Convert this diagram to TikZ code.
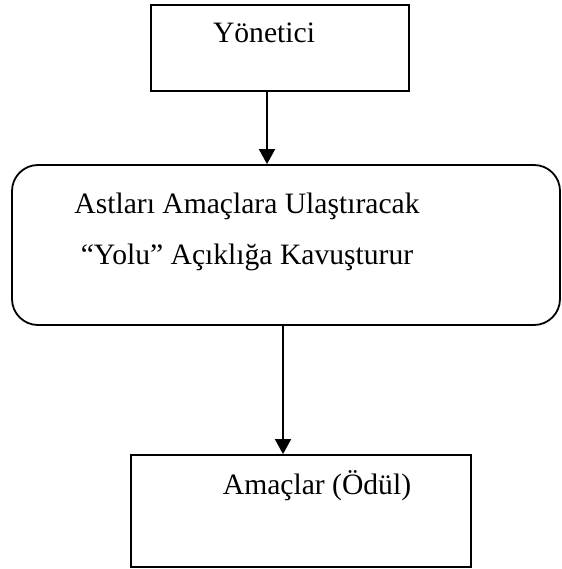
\documentclass[tikz,border=0pt]{standalone}
\usepackage{fontspec}
\setmainfont{Liberation Serif}
\usepackage{tikz}
\usetikzlibrary{arrows.meta}
\usetikzlibrary{positioning}
\tikzset{
    box/.style={
           rectangle,
           draw=black, line width=1.8pt,
           inner sep=0pt,
           },
    roundbox/.style={
           box,
           rounded corners=26pt,
           },
    txt/.style={
           inner sep=0pt,
           font=\fontsize{29.6}{51}\selectfont,
           align=center,
           },
}

\begin{document}
\begin{tikzpicture}[x=1pt,y=-1pt,arr/.style={-{Triangle[length=15pt,width=16pt]},line width=1.8pt}]

 \useasboundingbox (0,0) rectangle (561,569);

 % boxes
 \node[box, minimum width=258pt, minimum height=86pt] (yon) at (280,48) {};
 \node[roundbox, minimum width=548pt, minimum height=160pt] (yol) at (286,245) {};
 \node[box, minimum width=340pt, minimum height=112pt] (amac) at (301,511) {};

 % texts
 \node[txt] (yontxt) at ([xshift=-16pt,yshift=-29pt]yon.north) {Yönetici};
 \node[txt] (yoltxt) at ([xshift=-39pt,yshift=-68pt]yol.north)
 {Astları Amaçlara Ulaştıracak\\“Yolu” Açıklığa Kavuşturur};
 \node[txt] (amactxt) at ([xshift=16pt,yshift=-32pt]amac.north) {Amaçlar (Ödül)};

 % arrows
 \draw[arr] ([xshift=-13pt]yon.south) -- ([xshift=-19pt]yol.north);
 \draw[arr] ([xshift=-3pt]yol.south) -- ([xshift=-18pt]amac.north);

\end{tikzpicture}
\end{document}
